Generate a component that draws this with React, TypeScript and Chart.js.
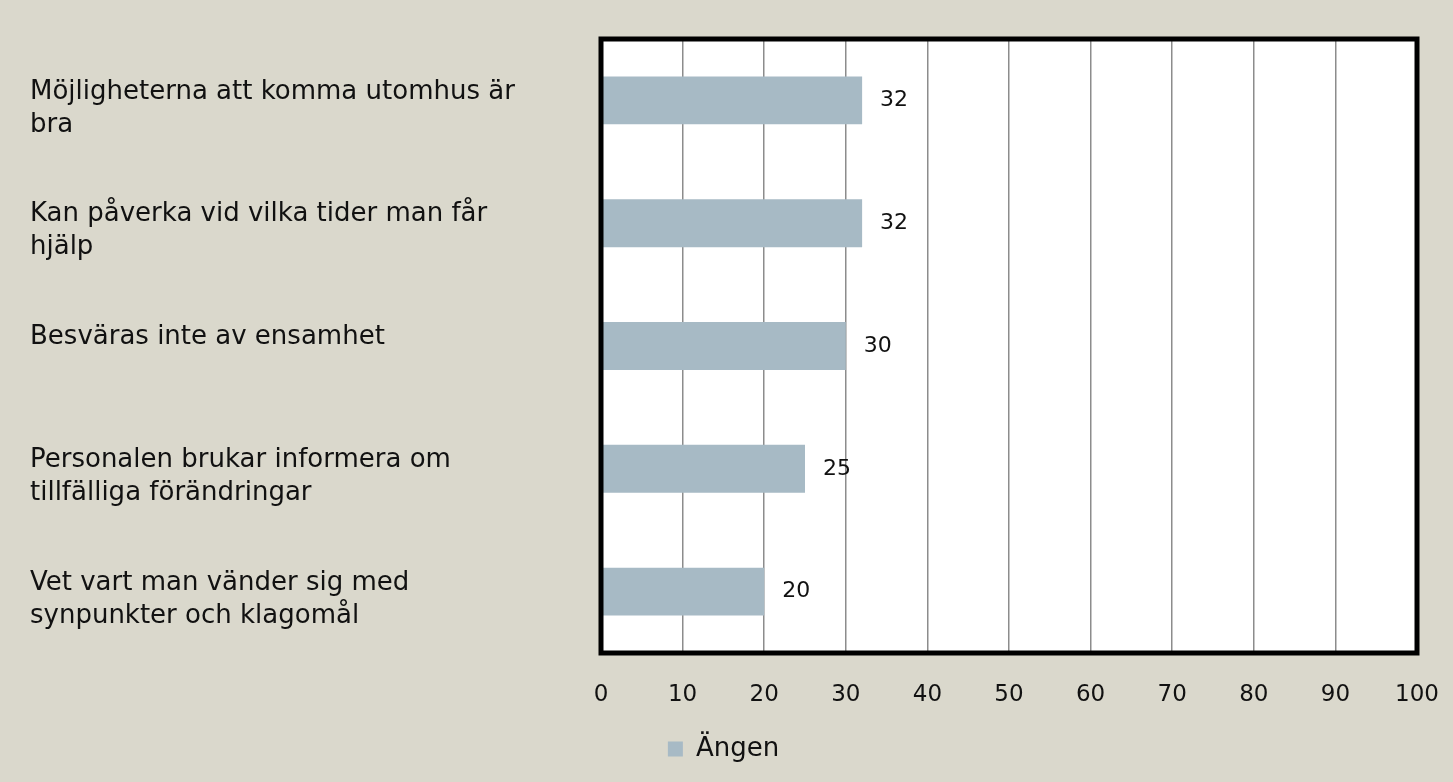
import React, { useEffect, useRef } from 'react';
import { Chart, registerables } from 'chart.js';

Chart.register(...registerables);

const categories: string[][] = [
  ['Möjligheterna att komma utomhus är', 'bra'],
  ['Kan påverka vid vilka tider man får', 'hjälp'],
  ['Besväras inte av ensamhet', ''],
  ['Personalen brukar informera om', 'tillfälliga förändringar'],
  ['Vet vart man vänder sig med', 'synpunkter och klagomål'],
];
const seriesName = 'Ängen';
const values = [32, 32, 30, 25, 20];
const xMin = 0;
const xMax = 100;
const xStep = 10;

const FONT = '"DejaVu Sans", sans-serif';
const BG = '#dad8cc';
const BAR = '#a7bac5';
const TEXT = '#111111';

export default function App() {
  const ref = useRef<HTMLCanvasElement | null>(null);

  useEffect(() => {
    if (!ref.current) return;
    const framePlugin = {
      id: 'frame',
      beforeDraw(chart: any) {
        const { ctx, chartArea: a } = chart;
        ctx.save();
        ctx.fillStyle = '#ffffff';
        ctx.fillRect(a.left, a.top, a.right - a.left, a.bottom - a.top);
        ctx.restore();
      },
      afterDatasetsDraw(chart: any) {
        const { ctx, chartArea: a } = chart;
        ctx.save();
        const meta = chart.getDatasetMeta(0);
        ctx.font = `22px ${FONT}`;
        ctx.fillStyle = TEXT;
        ctx.textAlign = 'left';
        ctx.textBaseline = 'middle';
        meta.data.forEach((el: any, i: number) => {
          ctx.fillText(String(values[i]), el.x + 18, el.y);
        });
        ctx.lineWidth = 5;
        ctx.strokeStyle = '#000000';
        ctx.strokeRect(a.left, a.top, a.right - a.left, a.bottom - a.top);
        ctx.restore();
      },
    };

    const chart = new Chart(ref.current, {
      type: 'bar',
      data: {
        labels: categories,
        datasets: [
          {
            label: seriesName,
            data: values,
            backgroundColor: BAR,
            borderWidth: 0,
            barPercentage: 0.39,
            categoryPercentage: 1,
          },
        ],
      },
      options: {
        indexAxis: 'y',
        animation: false,
        responsive: true,
        maintainAspectRatio: false,
        layout: { padding: { left: 30, right: 36, top: 39, bottom: 10 } },
        plugins: {
          legend: {
            position: 'bottom',
            labels: {
              boxWidth: 15,
              boxHeight: 15,
              font: { family: FONT, size: 26 },
              color: TEXT,
              padding: 10,
            },
          },
          tooltip: { enabled: false },
        },
        scales: {
          x: {
            min: xMin,
            max: xMax,
            ticks: {
              stepSize: xStep,
              font: { family: FONT, size: 23 },
              color: TEXT,
              padding: 28,
            },
            grid: { color: '#8c8c8c', lineWidth: 1.5, drawTicks: false },
            border: { display: false },
            afterFit(scale: any) {
              scale.height = 73;
              scale.paddingRight = 0;
              scale.paddingLeft = 0;
            },
          },
          y: {
            ticks: {
              crossAlign: 'far',
              font: { family: FONT, size: 26, lineHeight: 1.27 },
              color: TEXT,
              padding: 0,
              labelOffset: 8,
            },
            grid: { display: false, drawTicks: false },
            border: { display: false },
            afterFit(scale: any) {
              scale.width = 571;
            },
          },
        },
      },
      plugins: [framePlugin],
    } as any);
    return () => chart.destroy();
  }, []);

  return (
    <div
      style={{
        position: 'fixed',
        left: 0,
        top: 0,
        width: '1453px',
        height: '782px',
        background: BG,
      }}
    >
      <canvas ref={ref} />
    </div>
  );
}
